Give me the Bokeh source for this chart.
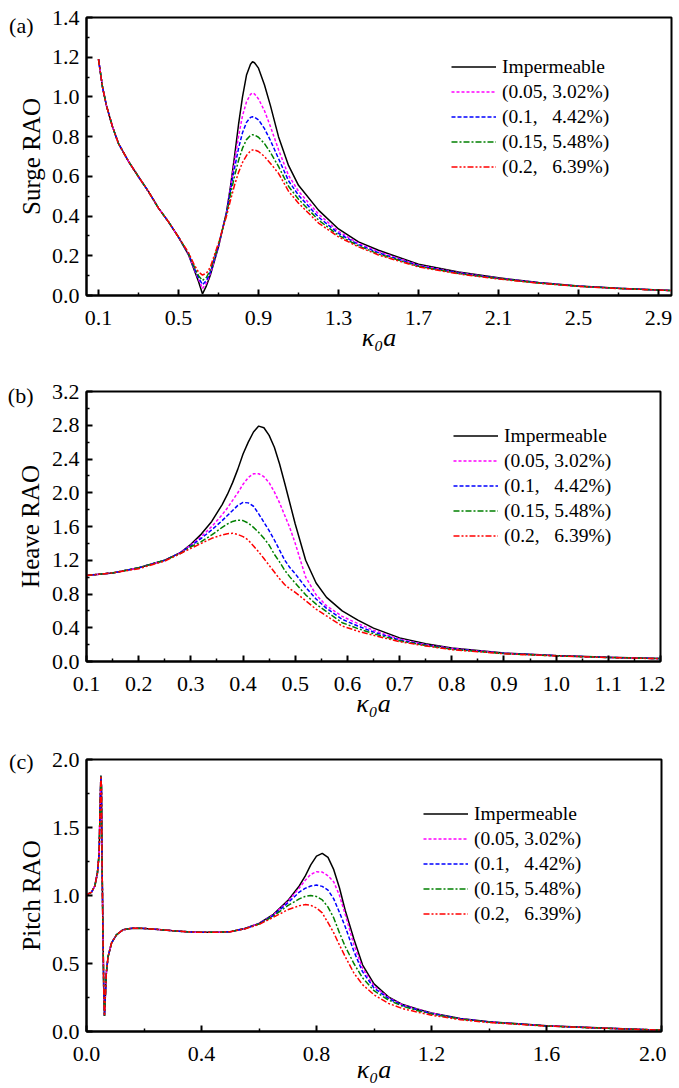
from bokeh.plotting import figure
from bokeh.layouts import column
from bokeh.models import (FixedTicker, PrintfTickFormatter, Legend, LegendItem,
                          LinearAxis, CustomJSTickFormatter)
from bokeh.embed import file_html
from bokeh.resources import INLINE

FONT = "Liberation Serif"

# ---------------- data ----------------
series_names = ["Impermeable", "(0.05, 3.02%)", "(0.1,\u00a0\u00a0\u00a04.42%)",
                "(0.15, 5.48%)", "(0.2,\u00a0\u00a0\u00a06.39%)"]
series_colors = ["#000000", "#FF00FF", "#0000FF", "#008000", "#FF0000"]
series_dashes = ["solid", "3 2", "4 2", "6 2 2 2", "6 2 2 2 2 2"]

# (a) Surge RAO
surge_x = [0.10, 0.12, 0.14, 0.17, 0.20, 0.25, 0.30, 0.35, 0.40, 0.45, 0.50,
           0.55, 0.58, 0.60, 0.62, 0.64, 0.66, 0.70, 0.74, 0.76, 0.78, 0.80,
           0.82, 0.84, 0.86, 0.87, 0.88, 0.90, 0.93, 0.96, 1.00, 1.05, 1.10,
           1.20, 1.30, 1.40, 1.50, 1.70, 1.90, 2.10, 2.30, 2.50, 2.70, 2.96]
surge_front = [1.19, 1.05, 0.955, 0.85, 0.765, 0.675, 0.598, 0.523, 0.44, 0.371, 0.294]
surge_imp = surge_front + [0.205, 0.125, 0.071, 0.008, 0.05, 0.105, 0.245, 0.42, 0.55, 0.70, 0.86,
                           1.00, 1.11, 1.165, 1.177, 1.172, 1.145, 1.06, 0.955, 0.80, 0.655, 0.555,
                           0.43, 0.335, 0.27, 0.228, 0.157, 0.118, 0.089, 0.066, 0.048, 0.037, 0.025]
surge_005 = surge_front + [0.207, 0.13, 0.082, 0.035, 0.063, 0.112, 0.248, 0.42, 0.545, 0.675, 0.80,
                           0.905, 0.975, 1.013, 1.02, 1.015, 0.99, 0.93, 0.85, 0.735, 0.605, 0.525,
                           0.41, 0.323, 0.262, 0.221, 0.153, 0.115, 0.087, 0.065, 0.047, 0.036, 0.025]
surge_01 = surge_front + [0.209, 0.135, 0.09, 0.055, 0.075, 0.12, 0.252, 0.415, 0.53, 0.64, 0.74,
                          0.82, 0.872, 0.897, 0.90, 0.898, 0.885, 0.84, 0.78, 0.69, 0.578, 0.505,
                          0.395, 0.313, 0.256, 0.215, 0.15, 0.113, 0.086, 0.064, 0.047, 0.036, 0.025]
surge_015 = surge_front + [0.212, 0.142, 0.10, 0.076, 0.092, 0.13, 0.258, 0.41, 0.51, 0.60, 0.68,
                           0.742, 0.785, 0.806, 0.81, 0.808, 0.797, 0.765, 0.72, 0.65, 0.55, 0.485,
                           0.38, 0.303, 0.25, 0.209, 0.147, 0.111, 0.085, 0.063, 0.046, 0.036, 0.025]
surge_02 = surge_front + [0.216, 0.152, 0.118, 0.103, 0.112, 0.145, 0.265, 0.40, 0.48, 0.555, 0.62,
                          0.67, 0.705, 0.728, 0.733, 0.733, 0.725, 0.70, 0.665, 0.615, 0.525, 0.465,
                          0.365, 0.295, 0.245, 0.204, 0.144, 0.109, 0.083, 0.062, 0.046, 0.035, 0.025]

# (b) Heave RAO
heave_x = [0.10, 0.15, 0.20, 0.25, 0.28, 0.30, 0.32, 0.34, 0.36, 0.37, 0.38, 0.39,
           0.40, 0.41, 0.42, 0.43, 0.44, 0.45, 0.46, 0.47, 0.48, 0.49, 0.50, 0.52,
           0.54, 0.56, 0.59, 0.62, 0.65, 0.70, 0.75, 0.80, 0.90, 1.00, 1.10, 1.20]
heave_imp = [1.02, 1.05, 1.11, 1.20, 1.29, 1.39, 1.51, 1.66, 1.86, 1.98, 2.12, 2.28,
             2.46, 2.60, 2.72, 2.79, 2.77, 2.68, 2.54, 2.34, 2.11, 1.87, 1.63, 1.20,
             0.93, 0.76, 0.60, 0.49, 0.395, 0.28, 0.21, 0.16, 0.10, 0.07, 0.05, 0.035]
heave_005 = [1.02, 1.05, 1.11, 1.20, 1.29, 1.38, 1.48, 1.60, 1.74, 1.82, 1.91, 2.00,
             2.10, 2.18, 2.225, 2.225, 2.19, 2.12, 2.01, 1.88, 1.73, 1.58, 1.40, 1.00,
             0.79, 0.66, 0.535, 0.45, 0.37, 0.265, 0.20, 0.155, 0.098, 0.069, 0.049, 0.034]
heave_01 = [1.02, 1.05, 1.11, 1.20, 1.29, 1.37, 1.46, 1.56, 1.67, 1.73, 1.79, 1.85,
            1.885, 1.88, 1.84, 1.75, 1.65, 1.55, 1.44, 1.32, 1.20, 1.11, 1.04, 0.88,
            0.74, 0.63, 0.50, 0.42, 0.35, 0.255, 0.195, 0.15, 0.096, 0.068, 0.048, 0.034]
heave_015 = [1.02, 1.05, 1.11, 1.20, 1.28, 1.36, 1.42, 1.50, 1.59, 1.63, 1.66, 1.675,
             1.67, 1.64, 1.59, 1.53, 1.46, 1.38, 1.27, 1.18, 1.08, 1.00, 0.93, 0.79,
             0.68, 0.59, 0.46, 0.39, 0.33, 0.245, 0.19, 0.145, 0.094, 0.067, 0.048, 0.034]
heave_02 = [1.02, 1.05, 1.10, 1.19, 1.28, 1.34, 1.40, 1.46, 1.50, 1.515, 1.52, 1.505,
            1.48, 1.44, 1.37, 1.30, 1.22, 1.14, 1.06, 0.98, 0.91, 0.86, 0.82, 0.72,
            0.62, 0.54, 0.42, 0.36, 0.31, 0.235, 0.185, 0.14, 0.092, 0.066, 0.047, 0.033]

# (c) Pitch RAO
pitch_x = [0.0, 0.017, 0.029, 0.038, 0.044, 0.047, 0.050, 0.052, 0.054, 0.057,
           0.060, 0.0625, 0.066, 0.069, 0.075, 0.087, 0.104, 0.127, 0.16, 0.20,
           0.25, 0.30, 0.35, 0.40, 0.45, 0.50,
           0.55, 0.60, 0.65, 0.70, 0.74, 0.76, 0.78, 0.80, 0.82, 0.84, 0.86, 0.88,
           0.90, 0.93, 0.96, 1.00, 1.05, 1.10, 1.15, 1.20, 1.30, 1.40, 1.60, 1.80, 2.00]
pitch_front = [1.006, 1.023, 1.07, 1.166, 1.31, 1.63, 1.88, 1.80, 1.26, 0.77,
               0.30, 0.115, 0.28, 0.43, 0.55, 0.65, 0.71, 0.748, 0.76, 0.758,
               0.75, 0.741, 0.733, 0.729, 0.729, 0.734]
pitch_imp = pitch_front + [0.757, 0.795, 0.862, 0.962, 1.07, 1.14, 1.225, 1.29, 1.31, 1.28, 1.19, 1.055,
                           0.89, 0.68, 0.49, 0.35, 0.255, 0.198, 0.166, 0.137, 0.095, 0.072, 0.042, 0.025, 0.01]
pitch_005 = pitch_front + [0.757, 0.794, 0.858, 0.955, 1.055, 1.11, 1.155, 1.175, 1.172, 1.145, 1.10, 1.00,
                           0.86, 0.64, 0.465, 0.335, 0.25, 0.195, 0.163, 0.135, 0.094, 0.071, 0.042, 0.025, 0.01]
pitch_01 = pitch_front + [0.756, 0.792, 0.853, 0.945, 1.025, 1.052, 1.07, 1.077, 1.067, 1.04, 0.975, 0.875,
                          0.77, 0.59, 0.44, 0.32, 0.243, 0.191, 0.16, 0.132, 0.093, 0.07, 0.041, 0.024, 0.01]
pitch_015 = pitch_front + [0.755, 0.79, 0.848, 0.925, 0.975, 0.993, 1.0, 0.992, 0.968, 0.915, 0.835, 0.725,
                           0.625, 0.50, 0.395, 0.30, 0.232, 0.185, 0.155, 0.128, 0.091, 0.069, 0.041, 0.024, 0.01]
pitch_02 = pitch_front + [0.754, 0.787, 0.84, 0.895, 0.925, 0.933, 0.928, 0.908, 0.872, 0.80, 0.725, 0.635,
                          0.55, 0.43, 0.345, 0.27, 0.207, 0.168, 0.143, 0.12, 0.087, 0.066, 0.04, 0.024, 0.01]

# ticks
surge_xticks = [0.1, 0.5, 0.9, 1.3, 1.7, 2.1, 2.5, 2.9]
surge_xminor = [0.3, 0.7, 1.1, 1.5, 1.9, 2.3, 2.7]
surge_yticks = [0.0, 0.2, 0.4, 0.6, 0.8, 1.0, 1.2, 1.4]
surge_yminor = [0.1, 0.3, 0.5, 0.7, 0.9, 1.1, 1.3]
heave_xticks = [0.1, 0.2, 0.3, 0.4, 0.5, 0.6, 0.7, 0.8, 0.9, 1.0, 1.1, 1.2]
heave_xminor = [0.15, 0.25, 0.35, 0.45, 0.55, 0.65, 0.75, 0.85, 0.95, 1.05, 1.15]
heave_yticks = [0.0, 0.4, 0.8, 1.2, 1.6, 2.0, 2.4, 2.8, 3.2]
heave_yminor = [0.2, 0.6, 1.0, 1.4, 1.8, 2.2, 2.6, 3.0]
pitch_xticks = [0.0, 0.4, 0.8, 1.2, 1.6, 2.0]
pitch_xminor = [0.2, 0.6, 1.0, 1.4, 1.8]
pitch_yticks = [0.0, 0.5, 1.0, 1.5, 2.0]
pitch_yminor = [0.25, 0.75, 1.25, 1.75]

x_title = "\u03ba\u2080a"


def style_axis(ax, ticks, minor, standoff):
    ax.ticker = FixedTicker(ticks=ticks, minor_ticks=minor)
    ax.formatter = PrintfTickFormatter(format="%.1f")
    ax.axis_line_width = 2
    ax.axis_line_color = "black"
    ax.major_tick_in = 6
    ax.major_tick_out = 0
    ax.minor_tick_in = 3
    ax.minor_tick_out = 0
    ax.major_tick_line_width = 2
    ax.minor_tick_line_width = 1.5
    ax.major_tick_line_color = "black"
    ax.minor_tick_line_color = "black"
    ax.major_label_text_font = FONT
    ax.major_label_text_font_size = "22px"
    ax.major_label_text_color = "black"
    ax.major_label_standoff = standoff


def make_panel(frame_w, frame_h, top, bottom, right, xr, yr, xt, xm, yt, ym, ylabel,
               tag, tag_pos, xs, ys, legend_xy, xlabel_standoff):
    left = 86
    p = figure(width=left + frame_w + right, height=top + frame_h + bottom,
               x_range=xr, y_range=yr, output_backend="svg", toolbar_location=None,
               min_border_left=left, min_border_right=right,
               min_border_top=top, min_border_bottom=bottom)
    p.xgrid.visible = False
    p.ygrid.visible = False
    p.outline_line_color = "black"
    p.outline_line_width = 2
    p.outline_line_alpha = 1
    p.background_fill_color = "white"
    p.border_fill_color = "white"
    style_axis(p.xaxis[0], xt, xm, 15)
    style_axis(p.yaxis[0], yt, ym, 7)

    xa = p.xaxis[0]
    xa.axis_label = x_title
    xa.axis_label_text_font = FONT
    xa.axis_label_text_font_size = "26px"
    xa.axis_label_text_font_style = "italic"
    xa.axis_label_text_color = "black"
    xa.axis_label_standoff = xlabel_standoff

    # outer left axis: carries the panel tag and the rotated y title
    tag_axis = LinearAxis(ticker=FixedTicker(ticks=[tag_pos], minor_ticks=[]),
                          formatter=CustomJSTickFormatter(code='return "%s";' % tag),
                          axis_line_color=None, major_tick_line_color=None,
                          minor_tick_line_color=None,
                          major_label_standoff=9,
                          major_label_text_font=FONT,
                          major_label_text_font_size="22px",
                          major_label_text_color="black",
                          axis_label=ylabel, axis_label_standoff=-39,
                          axis_label_text_font=FONT,
                          axis_label_text_font_size="25px",
                          axis_label_text_font_style="normal",
                          axis_label_text_color="black")
    p.add_layout(tag_axis, "left")

    items = []
    for name, color, dash, y in zip(series_names, series_colors, series_dashes, ys):
        r = p.line(xs, y, line_color=color, line_width=1.5, line_dash=dash)
        items.append(LegendItem(label=name, renderers=[r]))
    leg = Legend(items=items, location=legend_xy, orientation="vertical",
                 label_text_font=FONT, label_text_font_size="19.5px",
                 label_text_color="black",
                 glyph_width=45, glyph_height=25, label_height=25,
                 label_standoff=6, spacing=0, padding=0, margin=0,
                 border_line_alpha=0, background_fill_alpha=0)
    p.add_layout(leg)
    return p


pa = make_panel(585, 278, 17, 65, 5, (0.04, 2.965), (0.0, 1.4),
                surge_xticks, surge_xminor, surge_yticks, surge_yminor, "Surge RAO",
                "(a)", 1.36, surge_x,
                [surge_imp, surge_005, surge_01, surge_015, surge_02], (365, 116), -5)
pb = make_panel(575, 272, 31, 57, 4, (0.1, 1.2), (0.0, 3.2),
                heave_xticks, heave_xminor, heave_yticks, heave_yminor, "Heave RAO",
                "(b)", 3.15, heave_x,
                [heave_imp, heave_005, heave_01, heave_015, heave_02], (367, 113), -5)
pc = make_panel(576, 272, 39, 57, 4, (0.0, 2.0), (0.0, 2.0),
                pitch_xticks, pitch_xminor, pitch_yticks, pitch_yminor, "Pitch RAO",
                "(c)", 1.982, pitch_x,
                [pitch_imp, pitch_005, pitch_01, pitch_015, pitch_02], (337, 105), -9)

layout = column(pa, pb, pc, spacing=0)
open("out.html", "w").write(file_html(layout, INLINE))
